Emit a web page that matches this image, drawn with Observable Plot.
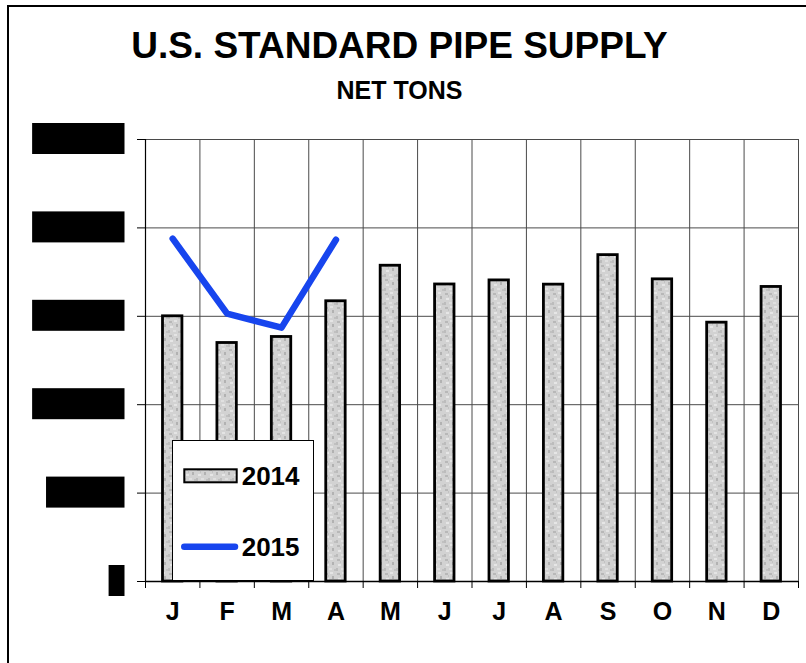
<!DOCTYPE html>
<html>
<head>
<meta charset="utf-8">
<script src="https://cdn.jsdelivr.net/npm/d3@7"></script>
<script src="https://cdn.jsdelivr.net/npm/@observablehq/plot@0.6"></script>
<style>
  html, body { margin: 0; padding: 0; background: #fff; overflow: hidden; width: 806px; height: 663px; }
  body { font-family: Arial, "Liberation Sans", sans-serif; position: relative; }
  #frame { position: absolute; left: 7px; top: 5px; width: 900px; height: 800px; border: 2.5px solid #000; }
  #title { position: absolute; left: 0; width: 799px; top: 27px; text-align: center;
           font-size: 37px; line-height: 37px; font-weight: bold; color: #000; white-space: nowrap; }
  #subtitle { position: absolute; left: 0; width: 799px; top: 78px; text-align: center;
              font-size: 25px; line-height: 25px; font-weight: bold; color: #000; white-space: nowrap; }
  #chart { position: absolute; left: 0; top: 110px; }
  #legend { position: absolute; left: 172px; top: 440px; width: 142px; height: 141px;
            box-sizing: border-box; border: 1px solid #000; background: #fff; }
  #legend svg { position: absolute; left: -1px; top: -1px; }
</style>
</head>
<body>
<div id="frame"></div>
<div id="title">U.S. STANDARD PIPE SUPPLY</div>
<div id="subtitle">NET TONS</div>
<div id="chart"></div>
<div id="legend"></div>
<script>
// ---- data ----
const months = ["J", "F", "M", "A", "M", "J", "J", "A", "S", "O", "N", "D"];
const supply2014 = [150000, 134900, 138300, 158500, 178600, 168000, 170300, 167900, 184600, 170900, 146400, 166600];
const supply2015 = [193900, 151500, 143600, 193300];
const yTicks = [0, 50000, 100000, 150000, 200000, 250000];
const seriesNames = ["2014", "2015"];

// tables built from the arrays
const bars = supply2014.map((v, i) => ({idx: i, month: months[i], value: v}));
const line = supply2015.map((v, i) => ({idx: i, month: months[i], value: v}));
const boundaries = d3.range(months.length + 1);
const centers = d3.range(months.length).map(i => i + 0.5);

const FONT = "Arial, 'Liberation Sans', sans-serif";
const BLUE = "#1745ee";
const GRID = "#4a4a4a";

const svg = Plot.plot({
  width: 806,
  height: 545,
  marginTop: 29,
  marginBottom: 74,
  marginLeft: 145,
  marginRight: 8,
  x: {domain: [0, months.length], axis: null, label: null},
  y: {domain: [0, 250000], axis: null, label: null},
  style: {fontFamily: FONT, background: "transparent", color: "#000", overflow: "visible"},
  marks: [
    Plot.ruleY(yTicks, {stroke: GRID, strokeWidth: 1}),
    Plot.ruleX(boundaries, {stroke: GRID, strokeWidth: 1}),
    Plot.axisY(yTicks, {label: null, tickSize: 8, tickPadding: 14, fontSize: 25, fontWeight: "bold",
      tickFormat: d3.format(","), stroke: "#000", fill: "#000"}),
    Plot.axisX(boundaries, {label: null, tickSize: 7, tickFormat: () => "", stroke: "#000"}),
    Plot.axisX(centers, {label: null, tickSize: 0, tickPadding: 21, fontSize: 25, fontWeight: "bold",
      tickFormat: d => months[Math.floor(d)], fill: "#000"}),
    Plot.ruleX([0], {stroke: "#000", strokeWidth: 1.2}),
    Plot.ruleY([0], {stroke: "#000", strokeWidth: 1.5}),
    Plot.rectY(bars, {x1: d => d.idx, x2: d => d.idx + 1, y: "value",
      insetLeft: 17.5, insetRight: 17.5, fill: "url(#stipple)", stroke: "#000", strokeWidth: 2.8}),
    Plot.line(line, {x: d => d.idx + 0.5, y: "value", stroke: BLUE, strokeWidth: 6.5,
      strokeLinecap: "round", strokeLinejoin: "round"})
  ]
});
document.getElementById("chart").appendChild(svg);

const NS = "http://www.w3.org/2000/svg";
const patternMarkup = `
  <pattern id="stipple" patternUnits="userSpaceOnUse" width="12" height="14">
    <rect width="12" height="14" fill="#d2d2d2"/>
    <rect x="1" y="1" width="3" height="2" fill="#b8b8b8"/>
    <rect x="6" y="0" width="3" height="2" fill="#e4e4e4"/>
    <rect x="8" y="4" width="2" height="3" fill="#b2b2b2"/>
    <rect x="2" y="6" width="3" height="2" fill="#e6e6e6"/>
    <rect x="0" y="10" width="2" height="3" fill="#bcbcbc"/>
    <rect x="5" y="10" width="3" height="2" fill="#e0e0e0"/>
    <rect x="4" y="3" width="1" height="2" fill="#c2c2c2"/>
    <rect x="10" y="11" width="2" height="2" fill="#c0c0c0"/>
  </pattern>`;
const defs = document.createElementNS(NS, "defs");
defs.innerHTML = patternMarkup;
svg.insertBefore(defs, svg.firstChild);

// redact the y tick labels with solid boxes, as in the reference
svg.querySelectorAll('g[aria-label="y-axis tick label"] text').forEach(t => {
  const bb = t.getBBox();
  const r = document.createElementNS(NS, "rect");
  r.setAttribute("x", bb.x - 1);
  r.setAttribute("y", bb.y + bb.height / 2 - 15.5);
  r.setAttribute("width", bb.width + 2);
  r.setAttribute("height", 31);
  r.setAttribute("fill", "#000");
  const tr = t.getAttribute("transform");
  if (tr) r.setAttribute("transform", tr);
  t.parentNode.insertBefore(r, t);
});

// legend
document.getElementById("legend").innerHTML = `
<svg width="142" height="141" xmlns="${NS}" style="font-family:${FONT.replace(/'/g, "&quot;")}">
  <defs>${patternMarkup.replace('id="stipple"', 'id="stipple-legend"')}</defs>
  <rect x="12.3" y="29.3" width="52.4" height="13" fill="url(#stipple-legend)" stroke="#000" stroke-width="2"/>
  <text x="69.7" y="45" font-size="26" font-weight="bold" fill="#000">${seriesNames[0]}</text>
  <line x1="12.3" x2="63" y1="106.7" y2="106.7" stroke="${BLUE}" stroke-width="6.5" stroke-linecap="round"/>
  <text x="69.7" y="115.5" font-size="26" font-weight="bold" fill="#000">${seriesNames[1]}</text>
</svg>`;
</script>
</body>
</html>
